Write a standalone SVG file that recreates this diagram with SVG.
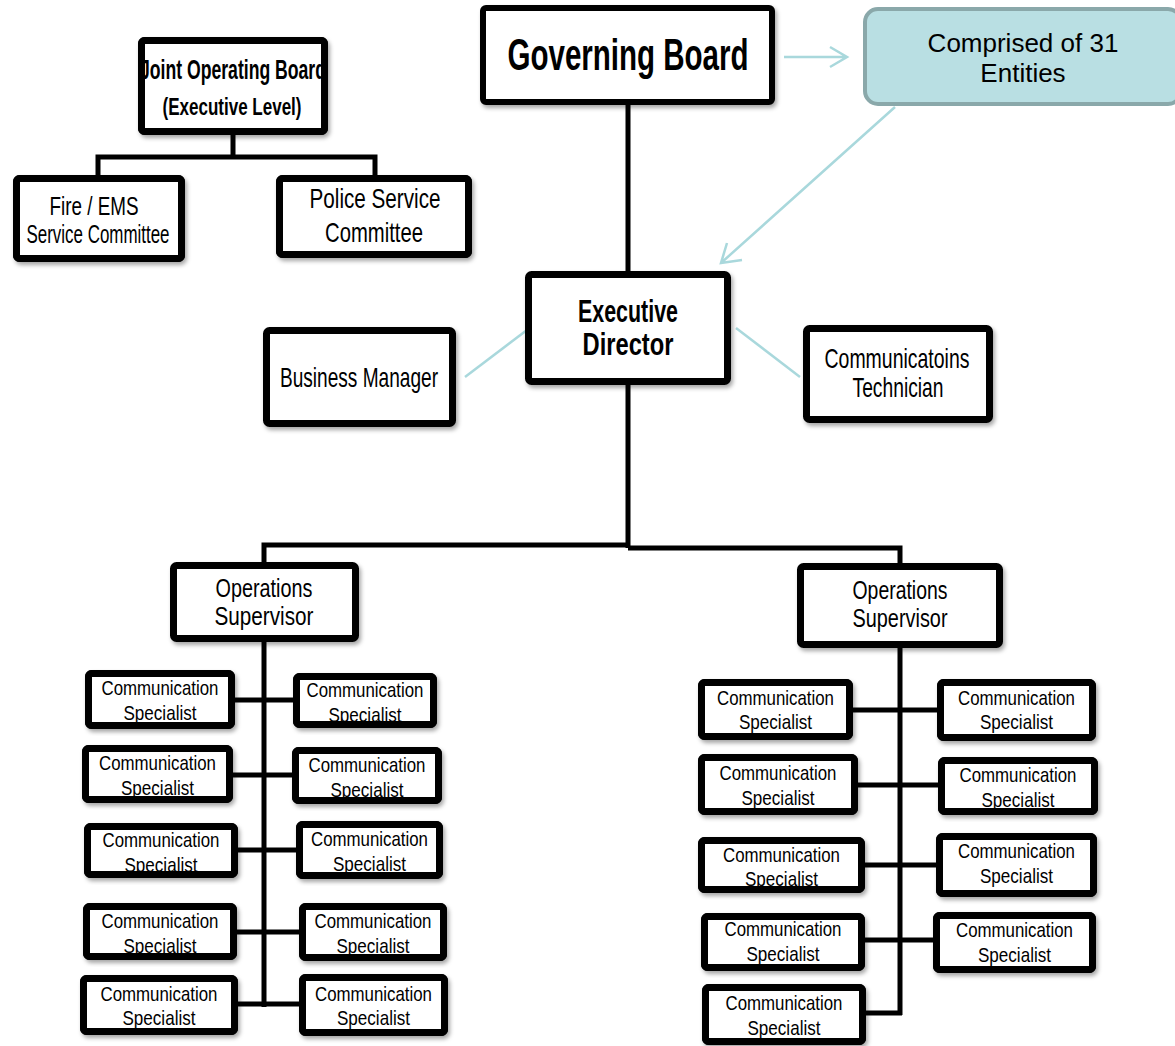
<svg xmlns="http://www.w3.org/2000/svg" width="1175" height="1046" viewBox="0 0 1175 1046">
<defs>
<filter id="sh" x="-10%" y="-10%" width="130%" height="130%">
<feDropShadow dx="2" dy="3" stdDeviation="2" flood-color="#000" flood-opacity="0.35"/>
</filter>
<style>
.bx{fill:#fff;stroke:#000;stroke-width:7;filter:url(#sh)}
.bo{fill:none;stroke:#000;stroke-width:7}
.t{font-family:"Liberation Sans",Arial,sans-serif;text-anchor:middle;fill:#000}
.sp{font-size:21px}
.md{font-size:28px}
.b{font-weight:bold}
.k{stroke:#000;stroke-width:5;fill:none}
.lb{stroke:#a9d8dc;stroke-width:2.5;fill:none}
</style>
</defs>
<rect width="1175" height="1046" fill="#fff"/>

<g id="connectors">
<path class="k" d="M233,135 V157 M98,176 V157 H375 V176"/>
<path class="k" d="M628,105 V272"/>
<path class="k" d="M628,385 V548 M264,563 V545 H630 M628,548 H900 V564"/>
<path class="k" d="M264,642 V1007 M235,700 H293 M233,775 H292 M238,850 H296 M237,932 H299 M238,1004 H299"/>
<path class="k" d="M900,648 V1015 M853,710 H937 M858,785 H938 M865,865 H936 M865,940 H933 M866,1013 H902"/>
<path class="lb" d="M784,57 H847 M830,47 L847,57 L830,67"/>
<path class="lb" d="M895,107 L721,263 M742,260 L721,263 L727,243"/>
<path class="lb" d="M465,377 L527,330"/>
<path class="lb" d="M736,328 L800,377"/>
</g>

<g id="joint-board">
<rect class="bx" x="141.5" y="40.5" width="183" height="91" rx="3"/>
<text class="t b" font-size="27" x="233" y="79" textLength="186" lengthAdjust="spacingAndGlyphs">Joint Operating Board</text>
<text class="t b" font-size="24" x="232" y="115" textLength="139" lengthAdjust="spacingAndGlyphs">(Executive Level)</text>
<rect class="bo" x="141.5" y="40.5" width="183" height="91" rx="3"/>
</g>

<g id="fire-ems">
<rect class="bx" x="16.5" y="178.5" width="165" height="80" rx="3"/>
<text class="t" font-size="26" x="94" y="215" textLength="89" lengthAdjust="spacingAndGlyphs">Fire / EMS</text>
<text class="t" font-size="26" x="98" y="243" textLength="143" lengthAdjust="spacingAndGlyphs">Service Committee</text>
<rect class="bo" x="16.5" y="178.5" width="165" height="80" rx="3"/>
</g>

<g id="police">
<rect class="bx" x="279.5" y="178.5" width="189" height="76" rx="3"/>
<text class="t md" x="375" y="208" textLength="131" lengthAdjust="spacingAndGlyphs">Police Service</text>
<text class="t md" x="374" y="242" textLength="98" lengthAdjust="spacingAndGlyphs">Committee</text>
<rect class="bo" x="279.5" y="178.5" width="189" height="76" rx="3"/>
</g>

<g id="governing-board">
<rect class="bx" x="483" y="8" width="289" height="94" rx="3" style="stroke-width:6"/>
<text class="t b" font-size="44" x="628" y="70" textLength="241" lengthAdjust="spacingAndGlyphs">Governing Board</text>
</g>

<g id="comprised">
<rect x="865" y="9" width="316" height="95" rx="13" fill="#b9dfe3" stroke="#8aa8aa" stroke-width="4"/>
<text class="t" font-size="26" x="1023" y="52">Comprised of 31</text>
<text class="t" font-size="26" x="1023" y="82">Entities</text>
</g>

<g id="executive-director">
<rect class="bx" x="528.5" y="274.5" width="199" height="107" rx="3"/>
<text class="t b" font-size="32" x="628" y="322" textLength="100" lengthAdjust="spacingAndGlyphs">Executive</text>
<text class="t b" font-size="32" x="628" y="355" textLength="91" lengthAdjust="spacingAndGlyphs">Director</text>
</g>

<g id="business-manager">
<rect class="bx" x="266.5" y="330.5" width="186" height="93" rx="3"/>
<text class="t md" x="359" y="387" textLength="158" lengthAdjust="spacingAndGlyphs">Business Manager</text>
</g>

<g id="comm-technician">
<rect class="bx" x="806.5" y="328.5" width="183" height="91" rx="3"/>
<text class="t md" x="897" y="368" textLength="145" lengthAdjust="spacingAndGlyphs">Communicatoins</text>
<text class="t md" x="898" y="397" textLength="91" lengthAdjust="spacingAndGlyphs">Technician</text>
</g>

<g id="ops-left">
<rect class="bx" x="173.5" y="565.5" width="182" height="73" rx="3"/>
<text class="t" font-size="25" x="264" y="597" textLength="97" lengthAdjust="spacingAndGlyphs">Operations</text>
<text class="t" font-size="25" x="264" y="625" textLength="99" lengthAdjust="spacingAndGlyphs">Supervisor</text>
</g>

<g id="ops-right">
<rect class="bx" x="800.5" y="566.5" width="199" height="78" rx="3"/>
<text class="t" font-size="25" x="900" y="599" textLength="95" lengthAdjust="spacingAndGlyphs">Operations</text>
<text class="t" font-size="25" x="900" y="627" textLength="95" lengthAdjust="spacingAndGlyphs">Supervisor</text>
</g>

<g id="spec-l1a"><rect class="bx" x="88.5" y="673.5" width="143" height="52" rx="3"/><text class="t sp" x="160" y="695" textLength="117" lengthAdjust="spacingAndGlyphs">Communication</text><text class="t sp" x="160" y="720" textLength="73" lengthAdjust="spacingAndGlyphs">Specialist</text><rect class="bo" x="88.5" y="673.5" width="143" height="52" rx="3"/></g>
<g id="spec-l1b"><rect class="bx" x="296.5" y="676.5" width="137" height="48" rx="3"/><text class="t sp" x="365" y="697" textLength="117" lengthAdjust="spacingAndGlyphs">Communication</text><text class="t sp" x="365" y="722" textLength="73" lengthAdjust="spacingAndGlyphs">Specialist</text><rect class="bo" x="296.5" y="676.5" width="137" height="48" rx="3"/></g>
<g id="spec-l2a"><rect class="bx" x="85.5" y="748.5" width="144" height="51" rx="3"/><text class="t sp" x="157.5" y="770" textLength="117" lengthAdjust="spacingAndGlyphs">Communication</text><text class="t sp" x="157.5" y="795" textLength="73" lengthAdjust="spacingAndGlyphs">Specialist</text><rect class="bo" x="85.5" y="748.5" width="144" height="51" rx="3"/></g>
<g id="spec-l2b"><rect class="bx" x="295.5" y="750.5" width="143" height="50" rx="3"/><text class="t sp" x="367" y="772" textLength="117" lengthAdjust="spacingAndGlyphs">Communication</text><text class="t sp" x="367" y="797" textLength="73" lengthAdjust="spacingAndGlyphs">Specialist</text><rect class="bo" x="295.5" y="750.5" width="143" height="50" rx="3"/></g>
<g id="spec-l3a"><rect class="bx" x="87.5" y="826.5" width="147" height="48" rx="3"/><text class="t sp" x="161" y="847" textLength="117" lengthAdjust="spacingAndGlyphs">Communication</text><text class="t sp" x="161" y="872" textLength="73" lengthAdjust="spacingAndGlyphs">Specialist</text><rect class="bo" x="87.5" y="826.5" width="147" height="48" rx="3"/></g>
<g id="spec-l3b"><rect class="bx" x="299.5" y="824.5" width="140" height="51" rx="3"/><text class="t sp" x="369.5" y="846" textLength="117" lengthAdjust="spacingAndGlyphs">Communication</text><text class="t sp" x="369.5" y="871" textLength="73" lengthAdjust="spacingAndGlyphs">Specialist</text><rect class="bo" x="299.5" y="824.5" width="140" height="51" rx="3"/></g>
<g id="spec-l4a"><rect class="bx" x="86.5" y="906.5" width="147" height="50" rx="3"/><text class="t sp" x="160" y="928" textLength="117" lengthAdjust="spacingAndGlyphs">Communication</text><text class="t sp" x="160" y="953" textLength="73" lengthAdjust="spacingAndGlyphs">Specialist</text><rect class="bo" x="86.5" y="906.5" width="147" height="50" rx="3"/></g>
<g id="spec-l4b"><rect class="bx" x="302.5" y="906.5" width="141" height="51" rx="3"/><text class="t sp" x="373" y="928" textLength="117" lengthAdjust="spacingAndGlyphs">Communication</text><text class="t sp" x="373" y="953" textLength="73" lengthAdjust="spacingAndGlyphs">Specialist</text><rect class="bo" x="302.5" y="906.5" width="141" height="51" rx="3"/></g>
<g id="spec-l5a"><rect class="bx" x="83.5" y="978.5" width="151" height="53" rx="3"/><text class="t sp" x="159" y="1001" textLength="117" lengthAdjust="spacingAndGlyphs">Communication</text><text class="t sp" x="159" y="1025" textLength="73" lengthAdjust="spacingAndGlyphs">Specialist</text><rect class="bo" x="83.5" y="978.5" width="151" height="53" rx="3"/></g>
<g id="spec-l5b"><rect class="bx" x="302.5" y="977.5" width="142" height="55" rx="3"/><text class="t sp" x="373.5" y="1001" textLength="117" lengthAdjust="spacingAndGlyphs">Communication</text><text class="t sp" x="373.5" y="1025" textLength="73" lengthAdjust="spacingAndGlyphs">Specialist</text><rect class="bo" x="302.5" y="977.5" width="142" height="55" rx="3"/></g>

<g id="spec-r1a"><rect class="bx" x="701.5" y="682.5" width="148" height="54" rx="3"/><text class="t sp" x="775.5" y="705" textLength="117" lengthAdjust="spacingAndGlyphs">Communication</text><text class="t sp" x="775.5" y="729" textLength="73" lengthAdjust="spacingAndGlyphs">Specialist</text><rect class="bo" x="701.5" y="682.5" width="148" height="54" rx="3"/></g>
<g id="spec-r1b"><rect class="bx" x="940.5" y="682.5" width="152" height="55" rx="3"/><text class="t sp" x="1016.5" y="705" textLength="117" lengthAdjust="spacingAndGlyphs">Communication</text><text class="t sp" x="1016.5" y="729" textLength="73" lengthAdjust="spacingAndGlyphs">Specialist</text><rect class="bo" x="940.5" y="682.5" width="152" height="55" rx="3"/></g>
<g id="spec-r2a"><rect class="bx" x="701.5" y="757.5" width="153" height="54" rx="3"/><text class="t sp" x="778" y="780" textLength="117" lengthAdjust="spacingAndGlyphs">Communication</text><text class="t sp" x="778" y="805" textLength="73" lengthAdjust="spacingAndGlyphs">Specialist</text><rect class="bo" x="701.5" y="757.5" width="153" height="54" rx="3"/></g>
<g id="spec-r2b"><rect class="bx" x="941.5" y="760.5" width="153" height="51" rx="3"/><text class="t sp" x="1018" y="782" textLength="117" lengthAdjust="spacingAndGlyphs">Communication</text><text class="t sp" x="1018" y="807" textLength="73" lengthAdjust="spacingAndGlyphs">Specialist</text><rect class="bo" x="941.5" y="760.5" width="153" height="51" rx="3"/></g>
<g id="spec-r3a"><rect class="bx" x="701.5" y="840.5" width="160" height="49" rx="3"/><text class="t sp" x="781.5" y="862" textLength="117" lengthAdjust="spacingAndGlyphs">Communication</text><text class="t sp" x="781.5" y="886" textLength="73" lengthAdjust="spacingAndGlyphs">Specialist</text><rect class="bo" x="701.5" y="840.5" width="160" height="49" rx="3"/></g>
<g id="spec-r3b"><rect class="bx" x="939.5" y="836.5" width="154" height="57" rx="3"/><text class="t sp" x="1016.5" y="858" textLength="117" lengthAdjust="spacingAndGlyphs">Communication</text><text class="t sp" x="1016.5" y="883" textLength="73" lengthAdjust="spacingAndGlyphs">Specialist</text><rect class="bo" x="939.5" y="836.5" width="154" height="57" rx="3"/></g>
<g id="spec-r4a"><rect class="bx" x="704.5" y="916.5" width="157" height="51" rx="3"/><text class="t sp" x="783" y="936" textLength="117" lengthAdjust="spacingAndGlyphs">Communication</text><text class="t sp" x="783" y="961" textLength="73" lengthAdjust="spacingAndGlyphs">Specialist</text><rect class="bo" x="704.5" y="916.5" width="157" height="51" rx="3"/></g>
<g id="spec-r4b"><rect class="bx" x="936.5" y="915.5" width="156" height="54" rx="3"/><text class="t sp" x="1014.5" y="937" textLength="117" lengthAdjust="spacingAndGlyphs">Communication</text><text class="t sp" x="1014.5" y="962" textLength="73" lengthAdjust="spacingAndGlyphs">Specialist</text><rect class="bo" x="936.5" y="915.5" width="156" height="54" rx="3"/></g>
<g id="spec-r5a"><rect class="bx" x="705.5" y="987.5" width="157" height="54" rx="3"/><text class="t sp" x="784" y="1010" textLength="117" lengthAdjust="spacingAndGlyphs">Communication</text><text class="t sp" x="784" y="1035" textLength="73" lengthAdjust="spacingAndGlyphs">Specialist</text><rect class="bo" x="705.5" y="987.5" width="157" height="54" rx="3"/></g>
</svg>
